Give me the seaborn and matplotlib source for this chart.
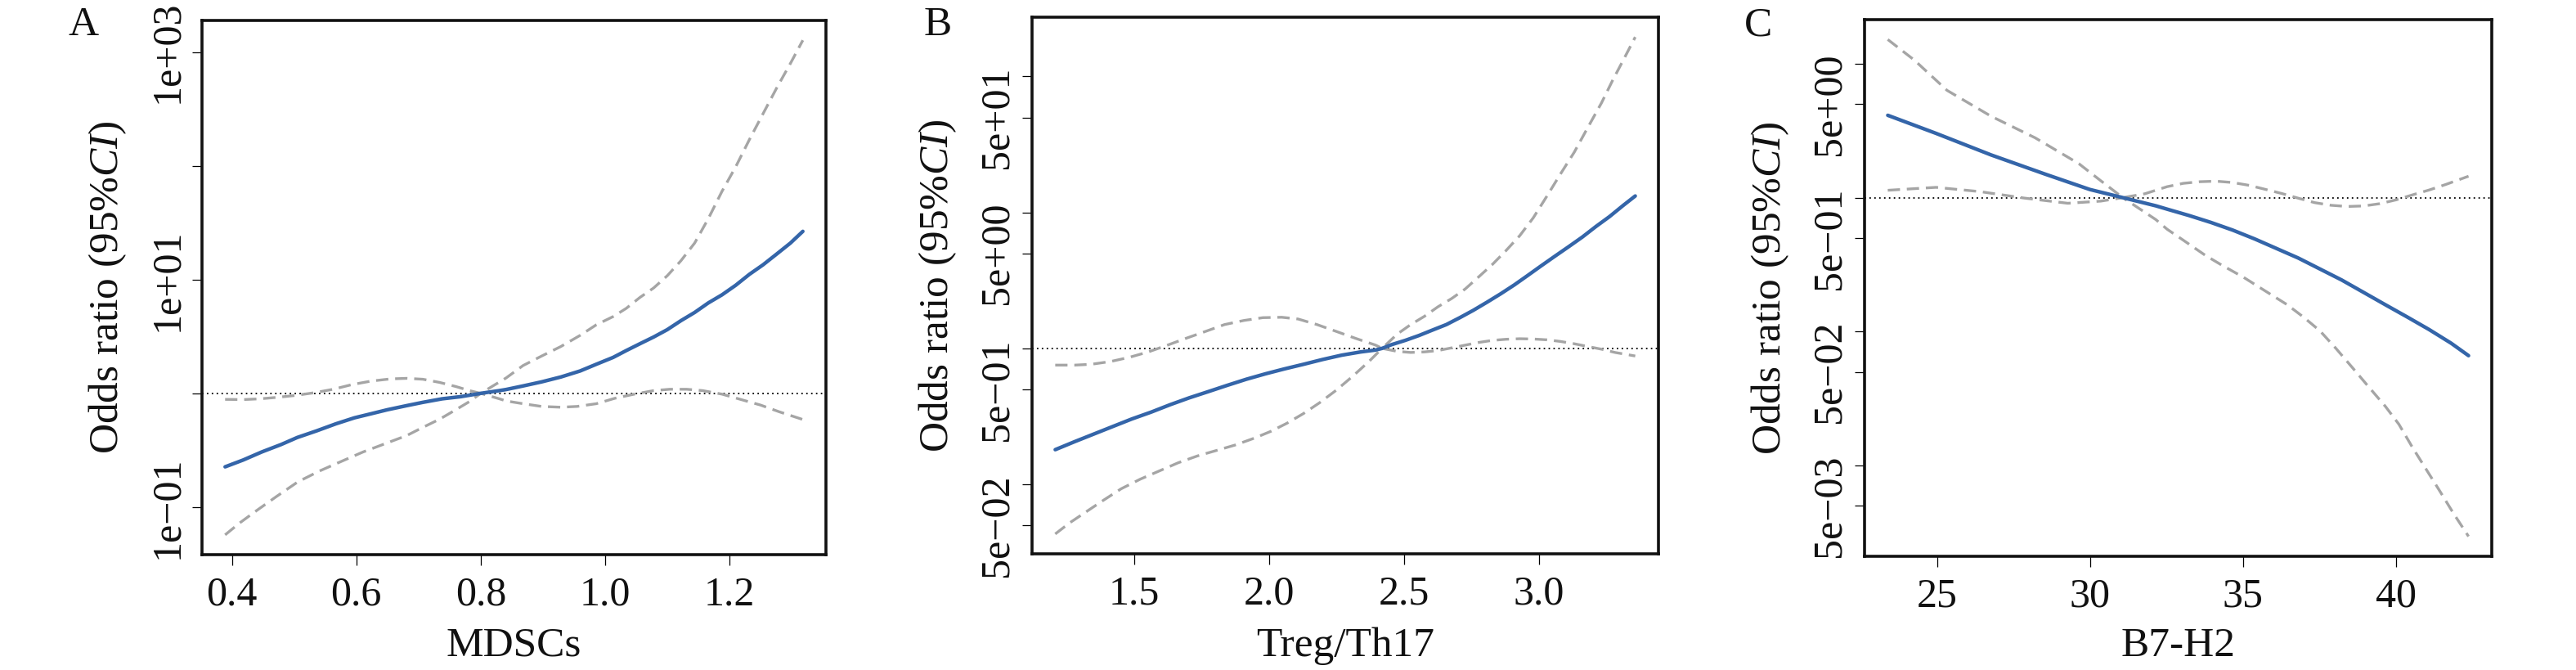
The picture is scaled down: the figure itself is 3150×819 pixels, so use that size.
import numpy as np
import matplotlib
matplotlib.use('Agg')
import matplotlib.pyplot as plt
import seaborn as sns
from matplotlib.ticker import NullLocator

# ---- values ----
# y values are log10(odds ratio), the axes are log scaled

# Panel A - MDSCs
a_fit_x = [0.389, 0.418, 0.448, 0.479, 0.505, 0.536, 0.567, 0.597, 0.624, 0.650, 0.681, 0.707, 0.738,
           0.768, 0.800, 0.830, 0.841, 0.868, 0.898, 0.929, 0.960, 0.986, 1.013, 1.034, 1.056, 1.078,
           1.100, 1.122, 1.144, 1.166, 1.188, 1.210, 1.232, 1.254, 1.276, 1.298, 1.318]
a_fit_log = [-0.646, -0.586, -0.515, -0.450, -0.388, -0.330, -0.268, -0.215, -0.179, -0.144, -0.108,
             -0.079, -0.048, -0.029, 0.0, 0.024, 0.034, 0.065, 0.101, 0.144, 0.197, 0.256, 0.316, 0.376,
             0.436, 0.495, 0.560, 0.639, 0.711, 0.795, 0.866, 0.950, 1.046, 1.130, 1.225, 1.321, 1.424]
a_up_x = [0.389, 0.418, 0.445, 0.471, 0.501, 0.532, 0.563, 0.593, 0.624, 0.655, 0.681, 0.707, 0.734,
          0.760, 0.782, 0.800, 0.841, 0.868, 0.898, 0.929, 0.960, 0.986, 1.013, 1.034, 1.056, 1.078,
          1.100, 1.122, 1.144, 1.166, 1.188, 1.210, 1.232, 1.254, 1.276, 1.298, 1.318]
a_up_log = [-0.053, -0.055, -0.048, -0.036, -0.019, 0.005, 0.036, 0.077, 0.108, 0.127, 0.132, 0.124,
            0.096, 0.060, 0.024, 0.0, 0.136, 0.244, 0.328, 0.412, 0.510, 0.603, 0.675, 0.747, 0.843,
            0.926, 1.034, 1.166, 1.321, 1.536, 1.776, 1.991, 2.230, 2.458, 2.685, 2.900, 3.104]
a_lo_x = [0.389, 0.413, 0.440, 0.471, 0.506, 0.541, 0.576, 0.611, 0.646, 0.681, 0.707, 0.734, 0.760,
          0.782, 0.800, 0.830, 0.841, 0.868, 0.898, 0.929, 0.955, 0.986, 1.016, 1.047, 1.078, 1.104,
          1.131, 1.157, 1.188, 1.219, 1.250, 1.280, 1.318]
a_lo_log = [-1.244, -1.137, -1.029, -0.909, -0.778, -0.682, -0.598, -0.515, -0.443, -0.371, -0.299,
            -0.227, -0.144, -0.072, 0.0, -0.048, -0.067, -0.091, -0.115, -0.122, -0.115, -0.091, -0.043,
            -0.007, 0.024, 0.036, 0.036, 0.024, -0.007, -0.055, -0.103, -0.162, -0.230]
a_xticks = [0.4, 0.6, 0.8, 1.0, 1.2]
a_xlabels = ['0.4', '0.6', '0.8', '1.0', '1.2']
a_yticks = [0.1, 1, 10, 100, 1000]
a_ylabels = ['1e\u221201', '', '1e+01', '', '1e+03']

# Panel B - Treg/Th17
b_fit_x = [1.207, 1.279, 1.350, 1.421, 1.491, 1.562, 1.633, 1.703, 1.774, 1.844, 1.915, 1.986, 2.056,
           2.127, 2.197, 2.268, 2.339, 2.394, 2.418, 2.454, 2.504, 2.555, 2.605, 2.656, 2.706, 2.756,
           2.807, 2.857, 2.908, 2.958, 3.008, 3.059, 3.110, 3.160, 3.210, 3.261, 3.311, 3.356]
b_fit_log = [-0.745, -0.686, -0.630, -0.574, -0.519, -0.469, -0.414, -0.364, -0.318, -0.272, -0.227,
             -0.187, -0.151, -0.117, -0.082, -0.050, -0.026, -0.012, 0.0, 0.028, 0.059, 0.095, 0.135,
             0.175, 0.226, 0.280, 0.340, 0.401, 0.467, 0.537, 0.608, 0.679, 0.749, 0.819, 0.896, 0.970,
             1.051, 1.121]
b_up_x = [1.207, 1.279, 1.340, 1.411, 1.481, 1.552, 1.623, 1.693, 1.764, 1.834, 1.905, 1.976, 2.046,
          2.107, 2.177, 2.248, 2.318, 2.394, 2.418, 2.474, 2.524, 2.575, 2.625, 2.676, 2.726, 2.777,
          2.827, 2.877, 2.928, 2.978, 3.029, 3.079, 3.130, 3.180, 3.231, 3.271, 3.311, 3.356]
b_up_log = [-0.123, -0.123, -0.117, -0.097, -0.066, -0.026, 0.024, 0.075, 0.125, 0.175, 0.205, 0.226,
            0.229, 0.216, 0.175, 0.125, 0.075, 0.024, 0.0, 0.105, 0.175, 0.236, 0.306, 0.367, 0.437,
            0.528, 0.618, 0.719, 0.829, 0.960, 1.121, 1.283, 1.443, 1.624, 1.806, 1.967, 2.118, 2.290]
b_lo_x = [1.207, 1.260, 1.320, 1.381, 1.451, 1.522, 1.592, 1.663, 1.734, 1.804, 1.875, 1.945, 2.006,
          2.066, 2.127, 2.187, 2.248, 2.308, 2.369, 2.418, 2.474, 2.524, 2.575, 2.625, 2.676, 2.726,
          2.777, 2.827, 2.877, 2.928, 2.978, 3.029, 3.079, 3.130, 3.180, 3.231, 3.281, 3.356]
b_lo_log = [-1.365, -1.284, -1.204, -1.123, -1.033, -0.962, -0.902, -0.841, -0.791, -0.751, -0.710,
            -0.660, -0.610, -0.550, -0.479, -0.399, -0.308, -0.207, -0.097, 0.0, -0.022, -0.030, -0.026,
            -0.016, 0.004, 0.024, 0.044, 0.059, 0.067, 0.071, 0.069, 0.063, 0.051, 0.034, 0.014, -0.006,
            -0.030, -0.056]
b_xticks = [1.5, 2.0, 2.5, 3.0]
b_xlabels = ['1.5', '2.0', '2.5', '3.0']
b_yticks = [0.05, 0.1, 0.5, 1, 5, 10, 50, 100]
b_ylabels = ['5e\u221202', '', '5e\u221201', '', '5e+00', '', '5e+01', '']

# Panel C - B7-H2
c_fit_x = [23.38, 24.96, 26.76, 28.55, 29.99, 31.07, 32.15, 32.52, 33.23, 33.95, 34.66, 35.38, 36.09,
           36.81, 37.52, 38.23, 38.95, 39.66, 40.38, 41.09, 41.81, 42.38]
c_fit_log = [0.615, 0.480, 0.319, 0.174, 0.061, 0.0, -0.061, -0.086, -0.133, -0.185, -0.242, -0.308,
             -0.379, -0.451, -0.533, -0.615, -0.708, -0.800, -0.892, -0.985, -1.087, -1.180]
c_up_x = [23.38, 24.25, 25.32, 26.76, 28.20, 29.63, 30.35, 31.07, 31.79, 32.52, 33.05, 33.59, 34.12,
          34.66, 35.20, 35.73, 36.27, 36.81, 37.34, 37.88, 38.41, 38.95, 39.48, 40.02, 40.55, 41.09,
          41.63, 42.38]
c_up_log = [1.181, 1.027, 0.801, 0.608, 0.447, 0.254, 0.126, 0.0, 0.029, 0.082, 0.107, 0.119, 0.123,
            0.113, 0.092, 0.062, 0.031, -0.004, -0.037, -0.057, -0.066, -0.062, -0.045, -0.016, 0.021,
            0.057, 0.098, 0.160]
c_lo_x = [23.38, 24.96, 26.40, 27.84, 29.27, 30.35, 31.07, 32.15, 32.52, 33.05, 33.77, 34.30, 35.02,
          35.73, 36.45, 36.98, 37.52, 38.05, 38.59, 39.12, 39.66, 40.10, 40.55, 41.00, 41.45, 41.89, 42.38]
c_lo_log = [0.055, 0.077, 0.045, -0.003, -0.042, -0.026, 0.0, -0.164, -0.236, -0.318, -0.431, -0.503,
            -0.595, -0.697, -0.800, -0.892, -0.995, -1.128, -1.272, -1.415, -1.559, -1.692, -1.867,
            -2.031, -2.195, -2.359, -2.530]
c_xticks = [25, 30, 35, 40]
c_xlabels = ['25', '30', '35', '40']
c_yticks = [0.005, 0.01, 0.05, 0.1, 0.5, 1, 5, 10]
c_ylabels = ['5e\u221203', '', '5e\u221202', '', '5e\u221201', '', '5e+00', '']

panels = [
    ('A', 'MDSCs', a_fit_x, a_fit_log, a_up_x, a_up_log, a_lo_x, a_lo_log, a_xticks, a_xlabels, a_yticks, a_ylabels),
    ('B', 'Treg/Th17', b_fit_x, b_fit_log, b_up_x, b_up_log, b_lo_x, b_lo_log, b_xticks, b_xlabels, b_yticks, b_ylabels),
    ('C', 'B7-H2', c_fit_x, c_fit_log, c_up_x, c_up_log, c_lo_x, c_lo_log, c_xticks, c_xlabels, c_yticks, c_ylabels),
]

# axes boxes in pixels: left, top, right, bottom, panel letter x
boxes = [(247, 25, 1010, 678, 102), (1262, 21, 2028, 677, 1147), (2280, 24, 3047, 680, 2150)]

# ---- style ----
sns.set_theme(style='ticks')
plt.rcParams['font.family'] = ['Liberation Serif', 'DejaVu Serif']
plt.rcParams['mathtext.fontset'] = 'custom'
plt.rcParams['mathtext.rm'] = 'Liberation Serif'
plt.rcParams['mathtext.it'] = 'Liberation Serif:italic'

BLUE = '#3465a9'
GREY = '#a5a5a5'
INK = '#111111'
W, H = 3150, 819

fig = plt.figure(figsize=(W / 100, H / 100), dpi=100)
fig.patch.set_facecolor('white')

for (letter, xname, fx, fy, ux, uy, lx, ly, xt, xl, yt, yl), (l, t, r, b, lett_x) in zip(panels, boxes):
    ax = fig.add_axes([l / W, 1 - b / H, (r - l) / W, (b - t) / H])
    ax.set_yscale('log')

    for cx, cy in [(ux, uy), (lx, ly)]:
        sns.lineplot(x=cx, y=10 ** np.array(cy), ax=ax, color=GREY, linewidth=2.4,
                     linestyle=(0, (4.5, 2.5)), sort=False)
    sns.lineplot(x=fx, y=10 ** np.array(fy), ax=ax, color=BLUE, linewidth=3.2,
                 sort=False, solid_capstyle='round', solid_joinstyle='round')
    ax.axhline(1, color='black', linewidth=1.3, linestyle=(0, (1, 2.3)), zorder=1)

    # R style 4% padding of the data range
    allx = np.array(fx + ux + lx)
    ally = np.array(fy + uy + ly)
    px = 0.04 * (allx.max() - allx.min())
    py = 0.04 * (ally.max() - ally.min())
    ax.set_xlim(allx.min() - px, allx.max() + px)
    ax.set_ylim(10 ** (ally.min() - py), 10 ** (ally.max() + py))

    ax.set_xticks(xt)
    ax.set_xticklabels(xl, fontsize=36, color=INK)
    ax.set_yticks(yt)
    ax.set_yticklabels(yl, fontsize=36, rotation=90, va='center', color=INK)
    ax.yaxis.set_minor_locator(NullLocator())
    ax.xaxis.set_minor_locator(NullLocator())

    ax.tick_params(axis='both', which='major', length=9, width=0.9, color='black')
    ax.tick_params(axis='x', pad=10)
    ax.tick_params(axis='y', pad=4.8)
    for s in ax.spines.values():
        s.set_visible(True)
        s.set_linewidth(2.6)
        s.set_color(INK)

    width = r - l
    height = b - t
    ax.set_ylabel(r'Odds ratio (95%$\mathit{CI}$)', fontsize=37, va='baseline', color=INK)
    ax.yaxis.set_label_coords(-103 / width, 0.5)
    ax.set_xlabel(xname, fontsize=37, va='baseline', color=INK)
    ax.xaxis.set_label_coords(0.5, -(802 - b) / height)

    fig.text(lett_x / W, 1 - 43 / H, letter, ha='center', va='baseline', fontsize=37, color=INK)

fig.savefig('out.png', dpi=100, facecolor='white')
